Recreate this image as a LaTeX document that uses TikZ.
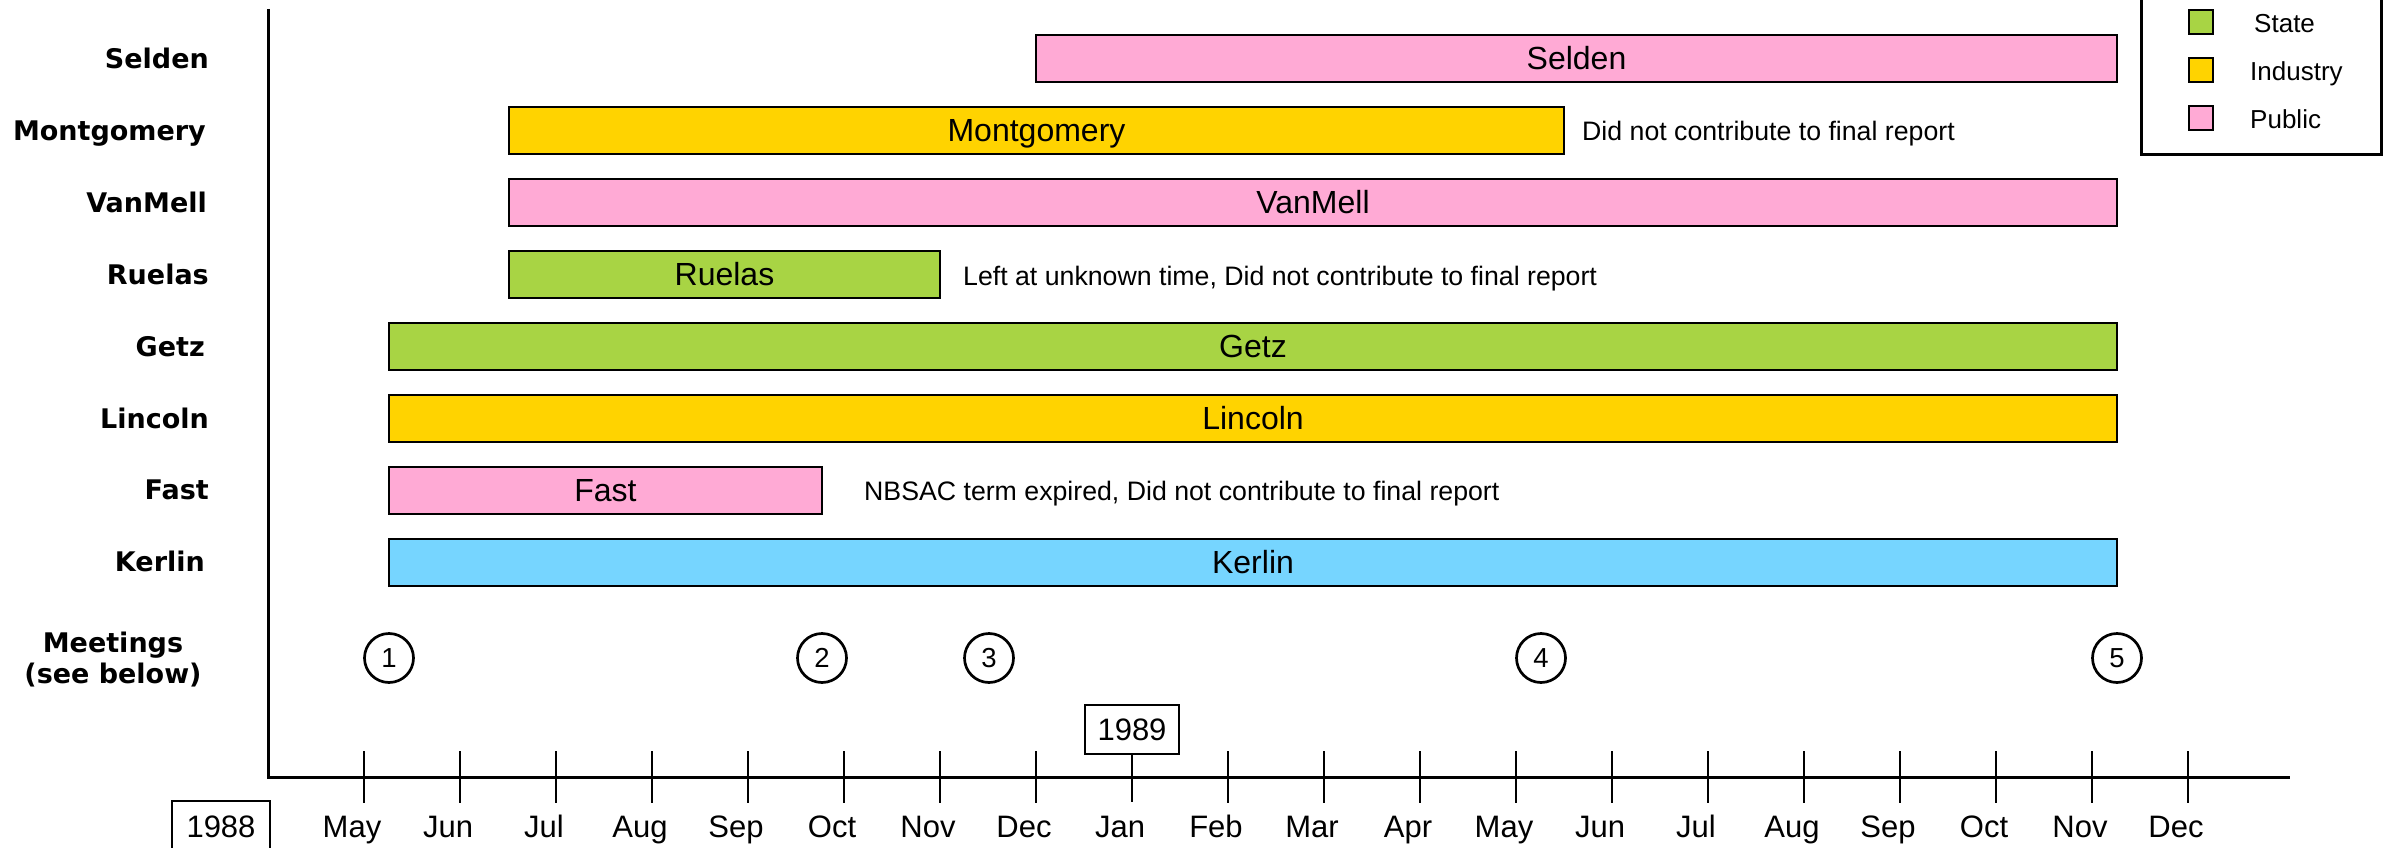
\documentclass[tikz,border=0pt]{standalone}
\usepackage{fontspec}
\setmainfont{Liberation Sans}
\newfontfamily\lblfont{DejaVu Sans}
\definecolor{cgreen}{RGB}{168,212,68}
\definecolor{cyellow}{RGB}{255,211,0}
\definecolor{cpink}{RGB}{255,170,213}
\definecolor{cblue}{RGB}{118,213,255}
\begin{document}
\begin{tikzpicture}[x=1pt,y=-1pt,
  bar/.style={draw=black, line width=2pt, minimum height=47pt, anchor=west, inner sep=0pt, outer sep=0pt,
    text height=22.5pt, text depth=0pt, font=\fontsize{32}{36}\selectfont},
  rowlbl/.style={anchor=east, inner sep=0pt, text height=19.7pt, text depth=0pt,
    font=\lblfont\bfseries\fontsize{27}{32}\selectfont},
  meetlbl/.style={anchor=center, inner sep=0pt, text height=19.7pt, text depth=0pt,
    font=\lblfont\bfseries\fontsize{27}{32}\selectfont},
  note/.style={anchor=west, inner sep=0pt, text height=19pt, text depth=0pt, font=\fontsize{26.7}{30}\selectfont},
  month/.style={anchor=base, inner sep=0pt, font=\fontsize{31}{36}\selectfont},
  meet/.style={circle, draw, line width=2.7pt, minimum size=49pt, inner sep=0pt, text height=19.5pt, text depth=0pt,
    font=\fontsize{27.5}{30}\selectfont},
  yearbox/.style={draw, line width=2pt, inner sep=0pt, fill=white, font=\fontsize{31}{36}\selectfont},
  tickmark/.style={line width=2.5pt},
  axisline/.style={line width=3pt},
  legsq/.style={draw, line width=1.5pt, minimum size=24pt, inner sep=0pt},
  legtxt/.style={anchor=west, inner sep=0pt, text height=18.6pt, text depth=0pt, font=\fontsize{26}{30}\selectfont}
]
\useasboundingbox (0,0) rectangle (2390,848);
\clip (0,0) rectangle (2390,848);

% axes
\draw[axisline] (268,9) -- (268,777) -- (2290,777);

% year boxes
\node[yearbox, minimum width=94pt, minimum height=49pt, text height=22.2pt, text depth=0pt] (y89) at (1132,729.5) {1989};
\node[yearbox, minimum width=98pt, minimum height=70pt, text height=22.2pt, text depth=20pt] (y88) at (221,836) {1988};

% month ticks and labels
\foreach \m [count=\i from 0] in {May,Jun,Jul,Aug,Sep,Oct,Nov,Dec,Jan,Feb,Mar,Apr,May,Jun,Jul,Aug,Sep,Oct,Nov,Dec} {
  \pgfmathsetmacro\xx{364+96*\i}
  \ifnum\i=8
    \draw[tickmark] (y89.south) -- (y89.south |- 0,802);
  \else
    \draw[tickmark] (\xx,751) -- (\xx,803);
  \fi
  \node[month] (mon\i) at (\xx-12,837) {\m};
}

% row labels
\node[rowlbl] (lselden) at (209,58.7) {Selden};
\node[rowlbl] (lmont) at (206,130.6) {Montgomery};
\node[rowlbl] (lvan) at (207,202.5) {VanMell};
\node[rowlbl] (lruel) at (209,274.4) {Ruelas};
\node[rowlbl] (lgetz) at (205,346.3) {Getz};
\node[rowlbl] (llinc) at (209,418.2) {Lincoln};
\node[rowlbl] (lfast) at (209,490.1) {Fast};
\node[rowlbl] (lkerl) at (205,562.0) {Kerlin};
\node[meetlbl] (lmeet1) at (113,643) {Meetings};
\node[meetlbl] (lmeet2) at (113,674) {(see below)};

% bars
\node[bar, fill=cpink, minimum width=1081pt] (selden) at (1036,58.7) {Selden};
\node[bar, fill=cyellow, minimum width=1055pt] (mont) at (509,130.6) {Montgomery};
\node[bar, fill=cpink, minimum width=1608pt] (van) at (509,202.5) {VanMell};
\node[bar, fill=cgreen, minimum width=431pt] (ruel) at (509,274.4) {Ruelas};
\node[bar, fill=cgreen, minimum width=1728pt] (getz) at (389,346.3) {Getz};
\node[bar, fill=cyellow, minimum width=1728pt] (linc) at (389,418.2) {Lincoln};
\node[bar, fill=cpink, minimum width=433pt] (fast) at (389,490.1) {Fast};
\node[bar, fill=cblue, minimum width=1728pt] (kerl) at (389,562.0) {Kerlin};

% notes
\node[note] (nmont) at (1582,131) {Did not contribute to final report};
\node[note] (nruel) at (963,276) {Left at unknown time, Did not contribute to final report};
\node[note] (nfast) at (864,491) {NBSAC term expired, Did not contribute to final report};

% meetings
\node[meet] (meet1) at (389,658) {1};
\node[meet] (meet2) at (822,658) {2};
\node[meet] (meet3) at (989,658) {3};
\node[meet] (meet4) at (1541,658) {4};
\node[meet] (meet5) at (2117,658) {5};

% legend
\node[draw, line width=3pt, minimum width=240pt, minimum height=170pt, inner sep=0pt] (legend) at (2261,69) {};
\node[legsq, fill=cgreen] (sqstate) at (2201,22) {};
\node[legsq, fill=cyellow] (sqind) at (2201,70) {};
\node[legsq, fill=cpink] (sqpub) at (2201,118) {};
\node[legtxt] (tstate) at (2254,23) {State};
\node[legtxt] (tind) at (2250,71) {Industry};
\node[legtxt] (tpub) at (2250,119) {Public};
\end{tikzpicture}
\end{document}
